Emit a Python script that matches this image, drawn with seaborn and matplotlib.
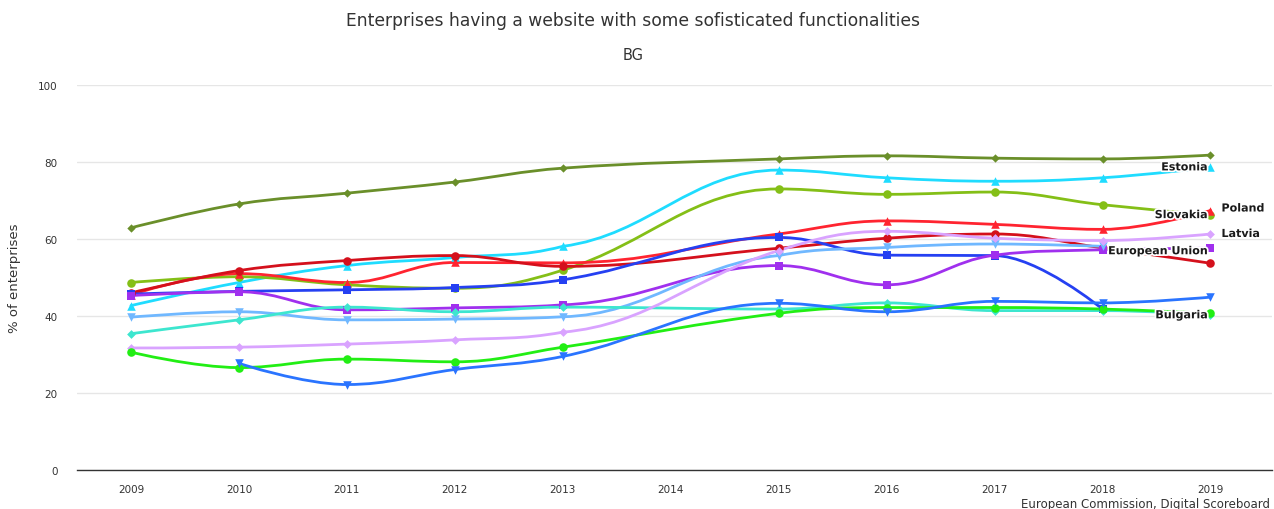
import numpy as np
import pandas as pd
import seaborn as sns
import matplotlib.pyplot as plt
import matplotlib.patheffects as pe
from matplotlib.path import Path
from matplotlib.patches import PathPatch

# categories
years = ['2009', '2010', '2011', '2012', '2013', '2014', '2015', '2016', '2017', '2018', '2019']

# series values (None = no data)
olive_diamond = [62.9, 69.1, 71.9, 74.8, 78.4, None, 80.8, 81.6, 81.0, 80.8, 81.8]
estonia = [42.7, 48.7, 53.1, 55.2, 58.1, None, 77.9, 75.9, 75.0, 75.9, 78.6]
slovakia = [48.7, 50.2, 48.1, 47.2, 51.9, None, 73.0, 71.6, 72.2, 68.9, 66.2]
poland = [45.5, 51.0, 48.7, 53.9, 53.8, None, 61.3, 64.7, 63.8, 62.5, 67.4]
darkred_circle = [46.0, 51.8, 54.4, 55.7, 52.9, None, 57.6, 60.2, 61.3, 57.7, 53.7]
blue_square = [45.7, 46.4, 46.8, 47.4, 49.4, None, 60.4, 55.8, 55.7, 41.8, None]
eu = [45.3, 46.3, 41.6, 42.1, 42.9, None, 53.1, 48.1, 55.8, 57.2, 57.6]
lightblue_tri = [39.7, 41.1, 39.0, 39.2, 39.8, None, 55.7, 57.8, 58.7, 58.1, None]
turquoise_diamond = [35.4, 39.0, 42.3, 41.1, 42.3, None, 41.8, 43.4, 41.4, 41.4, 40.3]
latvia = [31.7, 31.9, 32.7, 33.8, 35.8, None, 57.0, 62.0, 60.2, 59.6, 61.3]
bulgaria = [30.6, 26.6, 28.8, 28.1, 31.9, None, 40.7, 42.2, 42.2, 41.8, 40.7]
blue_tri = [None, 27.7, 22.2, 26.1, 29.5, None, 43.3, 41.1, 43.8, 43.4, 44.9]

series = [
    ('olive', olive_diamond, '#6a8f2a', 'D', 18),
    ('Estonia', estonia, '#1fdcff', '^', 38),
    ('Slovakia', slovakia, '#84bf17', 'o', 38),
    ('Poland', poland, '#ff2430', '^', 38),
    ('darkred', darkred_circle, '#d4101c', 'o', 38),
    ('bluesq', blue_square, '#2540f2', 's', 34),
    ('European Union', eu, '#a030ee', 's', 34),
    ('lightblue', lightblue_tri, '#70b8ff', 'v', 38),
    ('turquoise', turquoise_diamond, '#3de6cf', 'D', 20),
    ('Latvia', latvia, '#d9a3ff', 'D', 20),
    ('Bulgaria', bulgaria, '#22ee14', 'o', 38),
    ('bluetri', blue_tri, '#2a74ff', 'v', 38),
]

# end labels: (name, dx px, dy px, ha)
end_labels = [
    ('Estonia', -3, 0, 'right'),
    ('Slovakia', -3, 0, 'right'),
    ('Poland', 11, 2, 'left'),
    ('Latvia', 11, 0, 'left'),
    ('European Union', -3, -3, 'right'),
    ('Bulgaria', -3, -2, 'right'),
]


def spline_path(xs, ys, smoothing=1.5):
    # Highcharts-like spline: bezier control points around each point
    denom = smoothing + 1
    n = len(xs)
    left = [None] * n
    right = [None] * n
    for i in range(n):
        x, y = xs[i], ys[i]
        if i == 0 or i == n - 1:
            left[i] = (x, y)
            right[i] = (x, y)
            continue
        lx, ly = xs[i - 1], ys[i - 1]
        nx, ny = xs[i + 1], ys[i + 1]
        lcx = (smoothing * x + lx) / denom
        lcy = (smoothing * y + ly) / denom
        rcx = (smoothing * x + nx) / denom
        rcy = (smoothing * y + ny) / denom
        corr = 0
        if rcx != lcx:
            corr = (rcy - lcy) * (rcx - x) / (rcx - lcx) + y - rcy
        lcy += corr
        rcy += corr
        if lcy > ly and lcy > y:
            lcy = max(ly, y)
            rcy = 2 * y - lcy
        elif lcy < ly and lcy < y:
            lcy = min(ly, y)
            rcy = 2 * y - lcy
        if rcy > ny and rcy > y:
            rcy = max(ny, y)
            lcy = 2 * y - rcy
        elif rcy < ny and rcy < y:
            rcy = min(ny, y)
            lcy = 2 * y - rcy
        left[i] = (lcx, lcy)
        right[i] = (rcx, rcy)
    verts = [(xs[0], ys[0])]
    codes = [Path.MOVETO]
    for i in range(1, n):
        verts += [right[i - 1], left[i], (xs[i], ys[i])]
        codes += [Path.CURVE4] * 3
    return Path(verts, codes)


sns.set_style('white')
plt.rcParams['font.family'] = ['DejaVu Sans']

fig = plt.figure(figsize=(12.74, 5.10), dpi=100)
ax = fig.add_axes([77 / 1274, 1 - 471 / 510, 1195 / 1274, 385 / 510])

pos = np.arange(len(years))
for name, vals, color, marker, size in series:
    df = pd.DataFrame({'x': pos, 'y': vals}).dropna()
    path = spline_path(df['x'].tolist(), df['y'].astype(float).tolist())
    ax.add_patch(PathPatch(path, facecolor='none', edgecolor=color, lw=2, zorder=2,
                           capstyle='round', joinstyle='round'))
    sns.scatterplot(data=df, x='x', y='y', marker=marker, color=color, s=size,
                    linewidth=0, ax=ax, zorder=3, legend=False)

lookup = {s[0]: s[1] for s in series}
for name, dx, dy, ha in end_labels:
    vals = lookup[name]
    ax.annotate(name, (len(years) - 1, vals[-1]), xytext=(dx * 0.72, dy * 0.72),
                textcoords='offset points', ha=ha, va='center', fontsize=8,
                fontweight='bold', color='#1a1a1a', zorder=5,
                path_effects=[pe.withStroke(linewidth=2.5, foreground='white')])

ax.set_xlim(-0.5, len(years) - 0.43)
ax.set_ylim(0, 100)
ax.set_yticks([0, 20, 40, 60, 80, 100])
ax.yaxis.grid(True, color='#e6e6e6', lw=1)
ax.set_axisbelow(True)
for s in ['left', 'right', 'top']:
    ax.spines[s].set_visible(False)
ax.spines['bottom'].set_color('#333333')
ax.spines['bottom'].set_linewidth(1)

ax.set_xticks(pos)
ax.set_xticklabels(years)
ax.set_xticks(np.arange(-0.5, len(years)), minor=True)
ax.tick_params(axis='x', which='major', length=0, pad=10, labelsize=7.5, labelcolor='#333333')
ax.tick_params(axis='x', which='minor', length=10, width=1, color='#333333', direction='out')
ax.tick_params(axis='y', length=0, pad=14, labelsize=7.5, labelcolor='#333333')
ax.set_xlabel('')
ax.set_ylabel('% of enterprises', fontsize=9.5, color='#333333', labelpad=12)

fig.text(633 / 1274, 1 - 21 / 510, 'Enterprises having a website with some sofisticated functionalities',
         ha='center', va='center', fontsize=12.3, color='#333333')
fig.text(633 / 1274, 1 - 55 / 510, 'BG', ha='center', va='center', fontsize=10.5, color='#333333')
fig.text(1270 / 1274, 1 - 505 / 510, 'European Commission, Digital Scoreboard',
         ha='right', va='center', fontsize=8.5, color='#333333')

fig.savefig('out.png', dpi=100)
